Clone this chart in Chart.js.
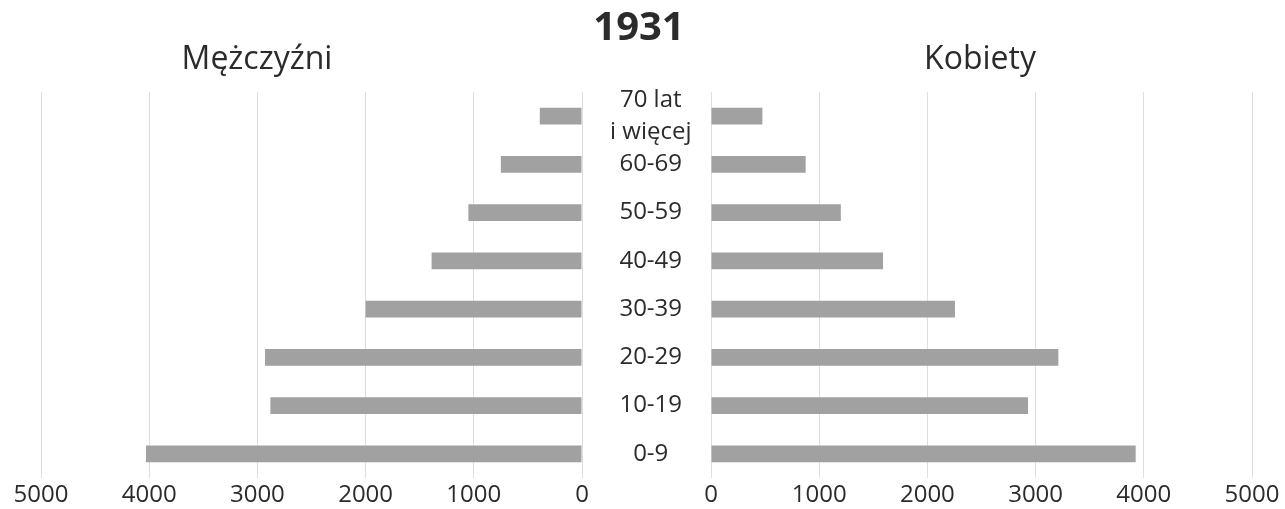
<!DOCTYPE html>
<html lang="pl">
	<head>
		<meta charset="UTF-8" />
		<title>1931</title>
		<script src="https://cdn.jsdelivr.net/npm/chart.js"></script>
		<style>
			body {
				margin: 0;
				width: 1285px;
				height: 509px;
				background: white;
				font-family: "Open Sans", sans-serif;
				color: #2b2b2b;
				position: relative;
				overflow: hidden;
			}
			.box {
				position: absolute;
				top: 0;
				height: 509px;
			}
			.txt {
				position: absolute;
				transform: translateX(-50%);
				white-space: nowrap;
			}
		</style>
	</head>
	<body>
		<div class="box" style="left: 0; width: 711px">
			<canvas id="menChart"></canvas>
		</div>
		<div class="box" style="left: 700px; width: 585px">
			<canvas id="womenChart"></canvas>
		</div>
		<div class="txt" style="left: 639px; top: -3px; font-size: 40px; font-weight: 700">1931</div>
		<div class="txt" style="left: 257px; top: 35px; font-size: 32px">Mężczyźni</div>
		<div class="txt" style="left: 980px; top: 35px; font-size: 32px">Kobiety</div>

		<script>
			const ageGroups = [
				["70 lat", "i więcej"],
				"60-69",
				"50-59",
				"40-49",
				"30-39",
				"20-29",
				"10-19",
				"0-9",
			];
			const men = [390, 750, 1050, 1390, 2000, 2930, 2880, 4030];
			const women = [475, 875, 1200, 1590, 2255, 3210, 2930, 3925];
			const axisMax = 5000;
			const axisStep = 1000;

			const barColor = "#a0a1a0";
			const textColor = "#2b2b2b";
			const gridColor = "#dedede";
			const font = { family: "Open Sans", size: 24 };

			function makeOptions(reverse, showLabels) {
				return {
					responsive: true,
					maintainAspectRatio: false,
					animation: false,
					indexAxis: "y",
					layout: {
						padding: reverse
							? { top: 92, left: 41, right: 0, bottom: 0 }
							: { top: 92, left: 11, right: 33, bottom: 0 },
					},
					plugins: {
						legend: { display: false },
						tooltip: { enabled: false },
					},
					scales: {
						x: {
							min: 0,
							max: axisMax,
							reverse: reverse,
							border: { display: false },
							grid: { color: gridColor, drawTicks: false },
							ticks: {
								stepSize: axisStep,
								color: textColor,
								font: font,
								padding: 3,
								callback: (v) => String(v),
							},
							afterFit: (axis) => {
								axis.height = 31;
							},
						},
						y: {
							position: "right",
							display: showLabels,
							border: { display: false },
							grid: { display: false },
							ticks: {
								color: textColor,
								font: { family: "Open Sans", size: 24, lineHeight: 1.3 },
								crossAlign: "center",
								padding: 20,
								autoSkip: false,
							},
							afterFit: (axis) => {
								axis.width = showLabels ? 129 : 0;
								axis.paddingTop = 0;
								axis.paddingBottom = 0;
							},
						},
					},
				};
			}

			new Chart(document.getElementById("menChart"), {
				type: "bar",
				data: {
					labels: ageGroups,
					datasets: [
						{
							data: men,
							backgroundColor: barColor,
							barPercentage: 0.7,
							categoryPercentage: 0.5,
						},
					],
				},
				options: makeOptions(true, true),
			});

			new Chart(document.getElementById("womenChart"), {
				type: "bar",
				data: {
					labels: ageGroups,
					datasets: [
						{
							data: women,
							backgroundColor: barColor,
							barPercentage: 0.7,
							categoryPercentage: 0.5,
						},
					],
				},
				options: makeOptions(false, false),
			});
		</script>
	</body>
</html>
